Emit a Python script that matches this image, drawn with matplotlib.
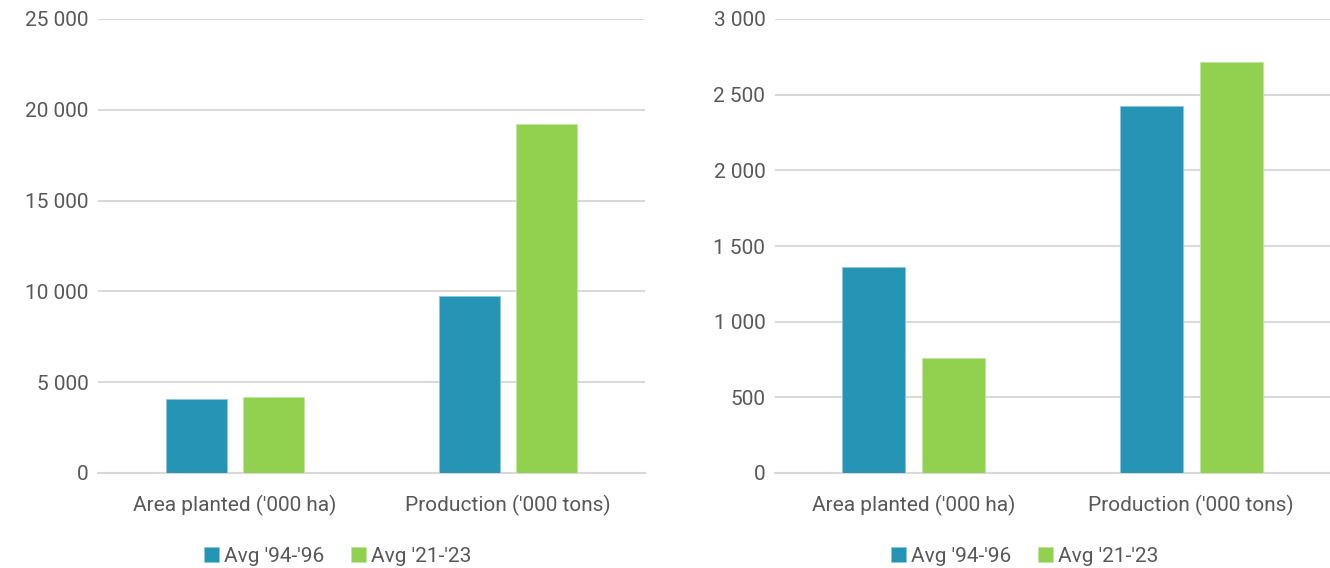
import numpy as np
import matplotlib.pyplot as plt
from matplotlib.ticker import FuncFormatter

categories = ["Area planted ('000 ha)", "Production ('000 tons)"]
series_names = ["Avg '94-'96", "Avg '21-'23"]

# left panel values
left_9496 = [4100, 9760]
left_2123 = [4200, 19200]

# right panel values
right_9496 = [1363, 2426]
right_2123 = [758, 2719]

left_ticks = [0, 5000, 10000, 15000, 20000, 25000]
right_ticks = [0, 500, 1000, 1500, 2000, 2500, 3000]

blue = '#2694B5'
green = '#92D050'
grid_col = '#D9D9D9'
text_col = '#595959'
fs = 15

plt.rcParams['font.family'] = ['Roboto', 'DejaVu Sans']

W, H = 1330, 568
fig = plt.figure(figsize=(W / 100, H / 100), dpi=100)


def space_fmt(v, pos):
    return f"{int(v):,}".replace(',', ' ')


def panel(rect, a, b, ticks, offset, width):
    ax = fig.add_axes([rect[0] / W, (H - rect[1] - rect[3]) / H, rect[2] / W, rect[3] / H])
    x = np.arange(len(categories))
    b1 = ax.bar(x - offset, a, width, color=blue, edgecolor='#8CC8DA', linewidth=0.6, zorder=3)
    b2 = ax.bar(x + offset, b, width, color=green, edgecolor='#C2E6A0', linewidth=0.6, zorder=3)
    ax.set_xlim(-0.5, len(categories) - 0.5)
    ax.set_ylim(ticks[0], ticks[-1])
    ax.set_yticks(ticks)
    ax.yaxis.set_major_formatter(FuncFormatter(space_fmt))
    ax.set_xticks(x)
    ax.set_xticklabels(categories)
    ax.grid(axis='y', color=grid_col, linewidth=1.5, zorder=0)
    ax.set_axisbelow(True)
    for s in ['top', 'right', 'left']:
        ax.spines[s].set_visible(False)
    ax.spines['bottom'].set_color(grid_col)
    ax.spines['bottom'].set_linewidth(1.5)
    ax.tick_params(axis='y', length=0, pad=7, labelsize=fs, labelcolor=text_col)
    ax.tick_params(axis='x', length=0, pad=15.5, labelsize=fs, labelcolor=text_col)
    return ax, b1, b2


ax1, l1, l2 = panel((98, 19, 547, 454), left_9496, left_2123, left_ticks, 0.141, 0.223)
ax2, r1, r2 = panel((775, 19, 555, 454), right_9496, right_2123, right_ticks, 0.144, 0.227)

for ax, handles, cx in [(ax1, (l1, l2), 338), (ax2, (r1, r2), 1025)]:
    fig.legend(handles, series_names, loc='center', bbox_to_anchor=(cx / W, (H - 556) / H),
               ncol=2, frameon=False, fontsize=fs, labelcolor=text_col,
               handlelength=0.7, handleheight=0.7, handletextpad=0.25, columnspacing=1.3)

fig.savefig('out.png', dpi=100, facecolor='white')
